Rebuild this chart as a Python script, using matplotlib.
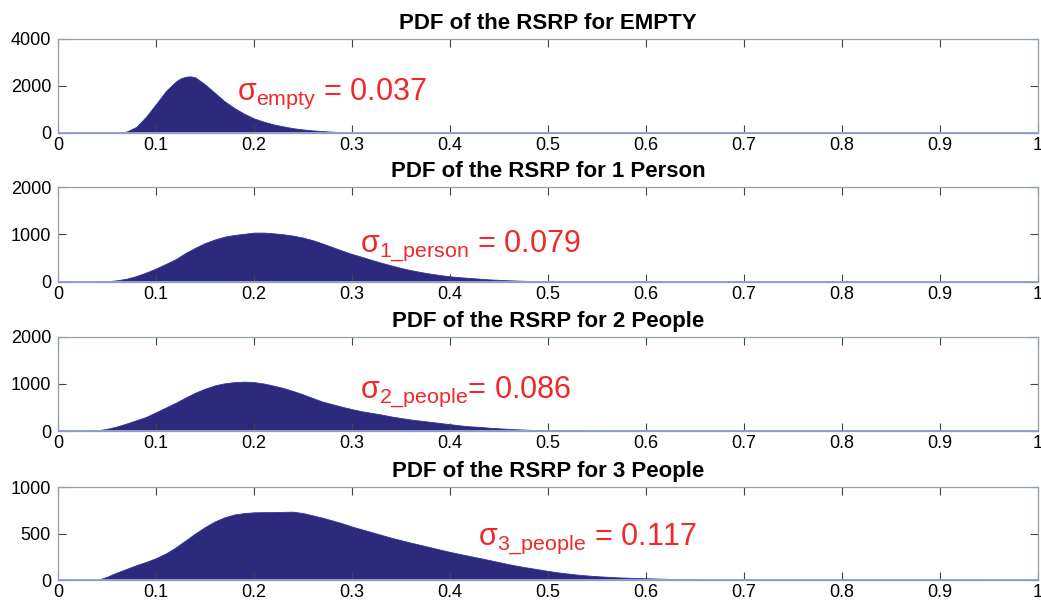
import matplotlib
matplotlib.use("Agg")
import matplotlib.pyplot as plt

plt.rcParams['font.family'] = ['Liberation Sans', 'DejaVu Sans']
plt.rcParams['mathtext.fontset'] = 'custom'
plt.rcParams['mathtext.rm'] = 'Liberation Sans'
plt.rcParams['mathtext.it'] = 'Liberation Sans:italic'

# bin centres (RSRP) and counts
rsrp_empty = [0.05, 0.06, 0.07, 0.08, 0.09, 0.10, 0.11, 0.12, 0.125, 0.13, 0.135, 0.14,
              0.15, 0.16, 0.17, 0.18, 0.19, 0.20, 0.21, 0.22, 0.23, 0.24, 0.25, 0.26,
              0.27, 0.28, 0.29, 0.30, 0.31, 0.32, 0.33]
count_empty = [0, 5, 60, 260, 700, 1230, 1780, 2180, 2320, 2390, 2410, 2370,
               2070, 1710, 1350, 1060, 820, 620, 480, 365, 280, 205, 150, 110,
               80, 55, 35, 18, 8, 3, 0]

rsrp_1 = [0.03, 0.04, 0.05, 0.06, 0.07, 0.08, 0.09, 0.10, 0.11, 0.12, 0.13, 0.14,
          0.15, 0.16, 0.17, 0.18, 0.19, 0.20, 0.21, 0.22, 0.23, 0.24, 0.25, 0.26,
          0.27, 0.28, 0.29, 0.30, 0.31, 0.32, 0.33, 0.34, 0.35, 0.36, 0.37, 0.38,
          0.39, 0.40, 0.41, 0.42, 0.43, 0.44, 0.45, 0.46, 0.47, 0.48, 0.49, 0.50,
          0.51, 0.52, 0.53, 0.54]
count_1 = [0, 5, 15, 35, 70, 125, 200, 285, 380, 480, 610, 720,
           820, 895, 955, 990, 1015, 1040, 1040, 1025, 1005, 975, 935, 880,
           810, 735, 660, 590, 530, 465, 405, 350, 295, 250, 210, 175,
           145, 120, 100, 85, 70, 55, 45, 36, 29, 22, 15, 10,
           6, 3, 1, 0]

rsrp_2 = [0.03, 0.04, 0.05, 0.06, 0.07, 0.08, 0.09, 0.10, 0.11, 0.12, 0.13, 0.14,
          0.15, 0.16, 0.17, 0.18, 0.19, 0.20, 0.21, 0.22, 0.23, 0.24, 0.25, 0.26,
          0.27, 0.28, 0.29, 0.30, 0.31, 0.32, 0.33, 0.34, 0.35, 0.36, 0.37, 0.38,
          0.39, 0.40, 0.41, 0.42, 0.43, 0.44, 0.45, 0.46, 0.47, 0.48, 0.49, 0.50,
          0.51, 0.52, 0.53, 0.54, 0.55, 0.56, 0.57, 0.58, 0.59, 0.60]
count_2 = [0, 15, 45, 95, 160, 230, 300, 400, 500, 600, 710, 815,
           900, 970, 1015, 1040, 1050, 1040, 1010, 965, 915, 850, 780, 700,
           625, 570, 515, 465, 420, 385, 350, 310, 275, 245, 220, 195,
           170, 145, 120, 100, 88, 70, 57, 45, 35, 26, 19, 13,
           10, 8, 6, 5, 4, 3, 2, 1, 1, 0]

rsrp_3 = [0.04, 0.05, 0.06, 0.07, 0.08, 0.09, 0.10, 0.11, 0.12, 0.13, 0.14, 0.15,
          0.16, 0.17, 0.18, 0.19, 0.20, 0.21, 0.22, 0.23, 0.24, 0.25, 0.26, 0.27,
          0.28, 0.29, 0.30, 0.31, 0.32, 0.33, 0.34, 0.35, 0.36, 0.37, 0.38, 0.39,
          0.40, 0.41, 0.42, 0.43, 0.44, 0.45, 0.46, 0.47, 0.48, 0.49, 0.50, 0.51,
          0.52, 0.53, 0.54, 0.55, 0.56, 0.57, 0.58, 0.59, 0.60, 0.61, 0.62, 0.63,
          0.64, 0.65, 0.66, 0.67, 0.68, 0.70, 0.75, 0.80, 0.85, 0.90, 0.94, 0.945]
count_3 = [0, 35, 80, 120, 160, 195, 235, 285, 350, 425, 500, 570,
           630, 675, 705, 720, 728, 730, 730, 733, 735, 720, 695, 670,
           640, 610, 575, 545, 515, 485, 455, 428, 402, 377, 352, 327,
           302, 280, 258, 237, 215, 192, 170, 150, 132, 115, 98, 82,
           70, 58, 49, 41, 35, 29, 25, 22, 19, 16, 13, 11,
           10, 8, 7, 6, 5, 4, 4, 3, 3, 3, 3, 0]

panels = [
    ("PDF of the RSRP for EMPTY", rsrp_empty, count_empty, [0, 2000, 4000],
     r"σ$_{\mathrm{empty}}$ = 0.037", 0.183, 1400),
    ("PDF of the RSRP for 1 Person", rsrp_1, count_1, [0, 1000, 2000],
     r"σ$_{\mathrm{1\_person}}$ = 0.079", 0.308, 630),
    ("PDF of the RSRP for 2 People", rsrp_2, count_2, [0, 1000, 2000],
     r"σ$_{\mathrm{2\_people}}$= 0.086", 0.308, 720),
    ("PDF of the RSRP for 3 People", rsrp_3, count_3, [0, 500, 1000],
     r"σ$_{\mathrm{3\_people}}$ = 0.117", 0.429, 375),
]

xticks = [0, 0.1, 0.2, 0.3, 0.4, 0.5, 0.6, 0.7, 0.8, 0.9, 1]
xlabels = ["0", "0.1", "0.2", "0.3", "0.4", "0.5", "0.6", "0.7", "0.8", "0.9", "1"]

navy = "#2b2a7c"
fig = plt.figure(figsize=(10.41, 6.05), dpi=100)
bottoms = [0.7802, 0.5339, 0.2876, 0.0413]
heights = [0.1554, 0.1570, 0.1554, 0.1537]

for (title, x, y, yt, note, nx, ny), b, h in zip(panels, bottoms, heights):
    ax = fig.add_axes([0.0557, b, 0.9414, h])
    ax.fill_between(x, y, color=navy, edgecolor="#333399", linewidth=0.6)
    ax.axhline(0, color="#9a9ae6", lw=1.4, zorder=3)
    ax.set_xlim(0, 1)
    ax.set_ylim(yt[0], yt[-1])
    ax.set_xticks(xticks)
    ax.set_xticklabels(xlabels)
    ax.set_yticks(yt)
    ax.tick_params(direction="in", top=True, right=True, length=6, width=0.8,
                   color="#444444", labelsize=13)
    ax.tick_params(axis="x", pad=3)
    ax.tick_params(axis="y", pad=5)
    for s in ax.spines.values():
        s.set_color("#8fa0aa")
        s.set_linewidth(0.9)
    ax.set_title(title, fontsize=16, fontweight="bold", pad=7)
    ax.text(nx, ny, note, color="#f02828", fontsize=22, va="baseline", ha="left")

fig.savefig("out.png", dpi=100)
